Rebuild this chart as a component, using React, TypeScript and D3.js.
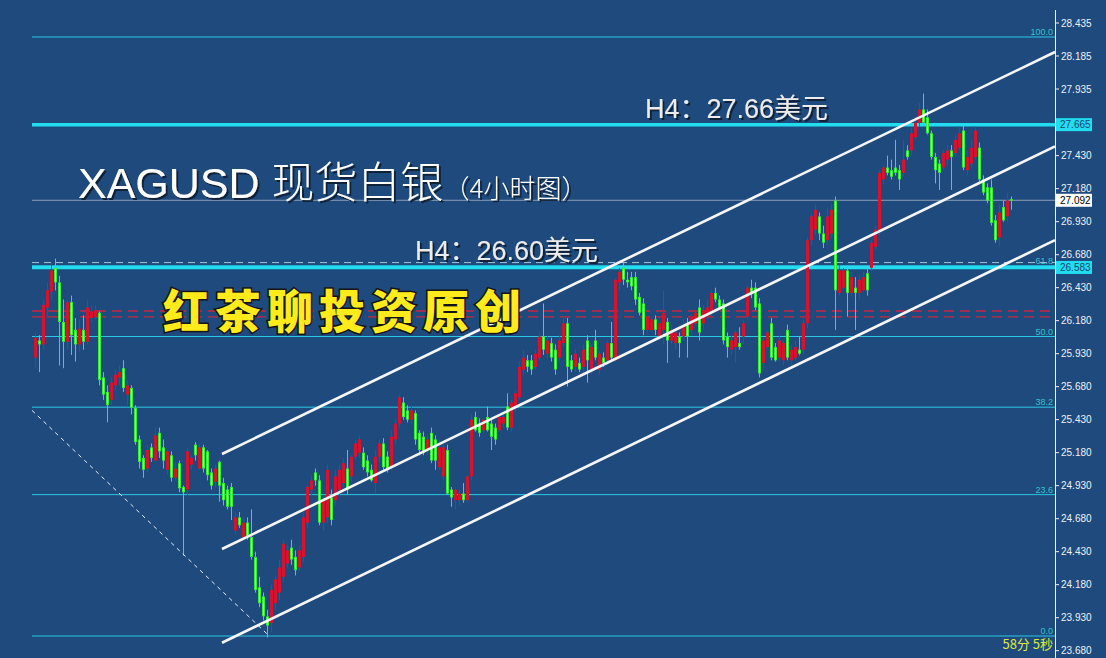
import * as d3 from "d3";

// 4H XAGUSD candles (oldest first)
const opens = [
  25.90, 26.03, 26.00, 26.28, 26.40, 26.58, 26.47, 26.17, 26.02, 26.32,
  26.11, 26.00, 26.11, 26.02, 26.20, 26.21, 26.24, 25.75, 25.64, 25.58,
  25.69, 25.75, 25.82, 25.62, 25.67, 25.52, 25.28, 25.14, 25.06, 25.22,
  25.12, 25.33, 25.22, 25.05, 25.16, 24.99, 25.10, 24.92, 24.90, 25.09,
  25.24, 25.06, 25.22, 25.19, 25.03, 24.96, 25.11, 24.95, 24.90, 24.92,
  24.59, 24.69, 24.54, 24.65, 24.54, 24.39, 24.16, 24.09, 23.94, 23.89,
  24.04, 24.12, 24.24, 24.34, 24.46, 24.39, 24.31, 24.39, 24.65, 24.90,
  25.03, 24.97, 24.65, 24.69, 24.84, 24.82, 24.90, 24.95, 25.06, 25.00,
  25.15, 25.18, 25.18, 25.12, 25.05, 24.95, 25.15, 25.25, 25.15, 25.07,
  25.28, 25.40, 25.56, 25.50, 25.43, 25.48, 25.33, 25.30, 25.20, 25.33,
  25.28, 25.07, 25.00, 25.20, 24.90, 24.82, 24.82, 24.87, 24.82, 25.00,
  25.45, 25.40, 25.35, 25.45, 25.40, 25.37, 25.35, 25.40, 25.53, 25.37,
  25.53, 25.60, 25.81, 25.88, 25.88, 25.83, 25.90, 26.06, 25.93, 26.01,
  25.96, 25.90, 26.01, 26.16, 25.88, 25.83, 25.86, 25.83, 26.03, 25.81,
  26.03, 25.81, 25.90, 25.88, 26.01, 25.88, 26.47, 26.58, 26.49, 26.51,
  26.51, 26.36, 26.31, 26.11, 26.11, 26.19, 26.06, 26.11, 26.17, 26.03,
  26.01, 26.06, 26.06, 26.16, 26.11, 26.16, 26.28, 26.16, 26.21, 26.26,
  26.39, 26.34, 26.31, 26.06, 25.96, 25.98, 26.01, 26.06, 26.21, 26.43,
  26.43, 26.31, 25.86, 25.98, 26.16, 25.98, 25.90, 25.88, 26.11, 25.88,
  25.90, 25.96, 25.96, 26.16, 26.79, 26.87, 26.97, 26.84, 26.79, 26.84,
  27.09, 26.39, 26.43, 26.56, 26.39, 26.43, 26.39, 26.41, 26.54, 26.58,
  26.74, 26.87, 27.25, 27.34, 27.32, 27.34, 27.32, 27.30, 27.47, 27.47,
  27.57, 27.68, 27.78, 27.72, 27.60, 27.42, 27.37, 27.34, 27.40, 27.47,
  27.45, 27.49, 27.62, 27.32, 27.37, 27.42, 27.49, 27.25, 27.19, 27.19,
  26.94, 26.81, 27.04, 26.97, 27.10,
];
const highs = [
  26.09, 26.07, 26.34, 26.47, 26.62, 26.65, 26.52, 26.34, 26.34, 26.37,
  26.20, 26.19, 26.22, 26.34, 26.29, 26.30, 26.25, 25.79, 25.69, 25.75,
  25.81, 25.84, 25.88, 25.73, 25.69, 25.54, 25.31, 25.16, 25.24, 25.25,
  25.37, 25.37, 25.28, 25.20, 25.19, 25.11, 25.12, 24.93, 25.22, 25.16,
  25.26, 25.24, 25.24, 25.20, 25.06, 25.09, 25.12, 24.99, 24.93, 24.95,
  24.73, 24.73, 24.69, 24.69, 24.75, 24.43, 24.24, 24.12, 23.99, 24.18,
  24.25, 24.37, 24.52, 24.48, 24.52, 24.44, 24.48, 24.73, 24.93, 25.01,
  25.06, 25.01, 24.86, 25.09, 24.90, 25.05, 25.09, 25.14, 25.20, 25.16,
  25.28, 25.31, 25.22, 25.16, 25.09, 25.20, 25.28, 25.29, 25.19, 25.35,
  25.44, 25.62, 25.60, 25.54, 25.54, 25.50, 25.35, 25.34, 25.31, 25.37,
  25.31, 25.28, 25.24, 25.24, 24.92, 24.91, 24.90, 24.95, 25.01, 25.47,
  25.49, 25.44, 25.44, 25.53, 25.43, 25.40, 25.47, 25.48, 25.63, 25.58,
  25.65, 25.87, 25.96, 25.92, 25.92, 25.96, 26.09, 26.31, 26.07, 26.05,
  26.00, 26.07, 26.20, 26.20, 25.92, 25.96, 25.90, 26.00, 26.07, 26.00,
  26.11, 25.96, 25.94, 26.03, 26.17, 26.50, 26.58, 26.62, 26.55, 26.55,
  26.55, 26.39, 26.35, 26.22, 26.20, 26.22, 26.17, 26.41, 26.20, 26.15,
  26.11, 26.09, 26.19, 26.20, 26.22, 26.26, 26.34, 26.30, 26.34, 26.41,
  26.43, 26.37, 26.34, 26.09, 26.07, 26.11, 26.13, 26.19, 26.45, 26.49,
  26.47, 26.35, 26.05, 26.11, 26.20, 26.01, 26.07, 26.03, 26.15, 26.00,
  26.03, 26.06, 26.19, 26.81, 26.99, 27.06, 27.00, 26.90, 27.04, 27.06,
  27.12, 26.60, 26.58, 26.60, 26.55, 26.51, 26.53, 26.55, 26.58, 26.79,
  26.90, 27.32, 27.36, 27.43, 27.40, 27.55, 27.36, 27.55, 27.51, 27.64,
  27.72, 27.83, 27.90, 27.78, 27.62, 27.45, 27.40, 27.47, 27.51, 27.51,
  27.59, 27.65, 27.66, 27.47, 27.55, 27.65, 27.53, 27.28, 27.22, 27.25,
  26.98, 27.06, 27.09, 27.15, 27.12,
];
const lows = [
  25.82, 25.79, 25.96, 26.20, 26.34, 26.41, 25.84, 25.82, 25.96, 25.92,
  25.87, 25.94, 25.96, 26.00, 26.17, 26.19, 25.69, 25.58, 25.41, 25.54,
  25.65, 25.69, 25.64, 25.54, 25.47, 25.24, 25.06, 24.99, 25.03, 25.11,
  25.11, 25.14, 25.06, 25.01, 24.96, 24.97, 24.88, 24.40, 24.86, 25.05,
  25.12, 25.05, 25.03, 24.97, 24.90, 24.92, 24.81, 24.78, 24.75, 24.67,
  24.56, 24.61, 24.52, 24.52, 24.37, 24.12, 24.01, 23.91, 23.78, 23.82,
  23.99, 24.06, 24.20, 24.31, 24.33, 24.25, 24.28, 24.35, 24.61, 24.86,
  24.93, 24.63, 24.59, 24.65, 24.63, 24.78, 24.86, 24.92, 24.86, 24.96,
  25.12, 25.14, 25.05, 25.00, 24.96, 24.87, 25.11, 25.05, 25.03, 25.05,
  25.24, 25.37, 25.43, 25.41, 25.39, 25.24, 25.16, 25.16, 25.16, 25.10,
  25.05, 25.05, 24.97, 24.86, 24.77, 24.75, 24.78, 24.80, 24.80, 24.97,
  25.34, 25.30, 25.33, 25.34, 25.20, 25.24, 25.34, 25.37, 25.35, 25.34,
  25.49, 25.58, 25.77, 25.79, 25.77, 25.81, 25.88, 25.92, 25.90, 25.87,
  25.77, 25.87, 25.98, 25.68, 25.79, 25.79, 25.79, 25.79, 25.71, 25.77,
  25.88, 25.77, 25.83, 25.84, 25.88, 25.87, 26.41, 26.45, 26.43, 26.41,
  26.30, 26.22, 26.07, 26.09, 26.09, 26.07, 26.03, 26.00, 25.86, 26.00,
  25.96, 25.90, 26.03, 25.90, 26.07, 26.15, 26.03, 26.11, 26.19, 26.22,
  26.32, 26.26, 26.00, 25.90, 25.92, 25.86, 25.96, 26.00, 26.19, 26.35,
  26.26, 25.75, 25.81, 25.96, 25.88, 25.87, 25.87, 25.84, 25.88, 25.83,
  25.88, 25.92, 25.92, 26.12, 26.75, 26.83, 26.79, 26.73, 26.75, 26.81,
  26.11, 26.37, 26.41, 26.21, 26.36, 26.11, 26.34, 26.40, 26.37, 26.55,
  26.72, 26.83, 27.21, 27.28, 27.25, 27.28, 27.17, 27.27, 27.40, 27.43,
  27.55, 27.65, 27.66, 27.59, 27.40, 27.22, 27.17, 27.32, 27.36, 27.17,
  27.42, 27.47, 27.32, 27.28, 27.34, 27.40, 27.22, 27.13, 27.07, 26.90,
  26.77, 26.74, 26.93, 26.93, 27.02,
];
const closes = [
  26.05, 26.00, 26.30, 26.41, 26.56, 26.47, 26.17, 26.02, 26.32, 26.07,
  26.00, 26.12, 26.02, 26.28, 26.25, 26.26, 25.73, 25.62, 25.54, 25.71,
  25.77, 25.79, 25.67, 25.69, 25.52, 25.26, 25.11, 25.05, 25.20, 25.14,
  25.31, 25.19, 25.12, 25.19, 24.99, 25.06, 24.91, 24.88, 25.19, 25.14,
  25.16, 25.22, 25.06, 25.01, 24.93, 25.06, 24.93, 24.82, 24.77, 24.77,
  24.69, 24.63, 24.65, 24.54, 24.39, 24.14, 24.04, 23.94, 23.87, 24.14,
  24.22, 24.31, 24.49, 24.44, 24.37, 24.29, 24.44, 24.69, 24.92, 24.97,
  24.97, 24.65, 24.82, 25.05, 24.67, 25.00, 25.05, 25.10, 24.90, 25.15,
  25.25, 25.28, 25.07, 25.03, 24.97, 25.15, 25.25, 25.07, 25.05, 25.30,
  25.40, 25.60, 25.45, 25.43, 25.50, 25.28, 25.20, 25.18, 25.28, 25.12,
  25.12, 25.22, 25.22, 24.87, 24.84, 24.90, 24.87, 24.82, 25.00, 25.43,
  25.35, 25.33, 25.43, 25.35, 25.30, 25.28, 25.45, 25.45, 25.37, 25.56,
  25.63, 25.83, 25.90, 25.83, 25.81, 25.93, 26.06, 25.96, 26.03, 25.90,
  25.81, 26.03, 26.16, 25.83, 25.81, 25.93, 25.81, 25.96, 25.88, 25.98,
  25.90, 25.93, 25.86, 26.01, 25.90, 26.49, 26.55, 26.49, 26.47, 26.44,
  26.34, 26.24, 26.11, 26.21, 26.19, 26.11, 26.16, 26.24, 26.03, 26.11,
  26.09, 26.01, 26.13, 26.06, 26.21, 26.24, 26.09, 26.26, 26.28, 26.39,
  26.34, 26.28, 26.03, 25.98, 26.03, 26.09, 25.98, 26.16, 26.43, 26.39,
  26.28, 25.78, 26.03, 26.09, 25.90, 25.88, 26.03, 26.01, 25.90, 25.96,
  25.98, 25.93, 26.16, 26.79, 26.97, 27.02, 26.84, 26.77, 26.97, 27.02,
  26.41, 26.56, 26.56, 26.39, 26.51, 26.39, 26.49, 26.51, 26.41, 26.77,
  26.87, 27.30, 27.34, 27.30, 27.27, 27.30, 27.25, 27.40, 27.42, 27.60,
  27.68, 27.78, 27.68, 27.60, 27.42, 27.32, 27.30, 27.45, 27.47, 27.42,
  27.55, 27.60, 27.34, 27.42, 27.49, 27.62, 27.25, 27.15, 27.09, 26.92,
  26.79, 27.00, 26.94, 27.09, 27.09,
];

// price axis
const axisTicks = [
  28.435, 28.185, 27.935, 27.43, 27.18, 26.93, 26.68, 26.43, 26.18, 25.93,
  25.68, 25.43, 25.18, 24.93, 24.68, 24.43, 24.18, 23.93, 23.68,
];
const keyLevels = [27.665, 26.583];
const keyLabels = ["H4：27.66美元", "H4：26.60美元"];
const lastPrice = 27.092;

// fibonacci retracement
const fibHigh = 28.329;
const fibLow = 23.791;
const fibLevels = [0, 23.6, 38.2, 50, 61.8, 100];

const redDashLevels = [26.253, 26.208];
const greyDashLevel = 26.62;

// channel lines: [bar index, price] pairs
const channels: [number, number][][] = [
  [[46.75, 25.17], [255, 28.215]],
  [[46.75, 24.45], [255, 27.5]],
  [[46.75, 23.74], [255, 26.79]],
];
const fibTrend: [number, number][] = [[-0.75, 25.5], [58.25, 23.8]];

const W = 1106;
const H = 658;
const plotLeft = 32;
const plotRight = 1055;

const x = d3.scaleLinear().domain([0, closes.length - 1]).range([35, 35 + 4 * (closes.length - 1)]);
const y = d3.scaleLinear().domain([28.435, 23.68]).range([23, 650.66]);
const fmt = d3.format(".3f");

const bg = "#1f4a7d";
const cyan = "#22dcef";
const latin = "'Liberation Sans', Arial, sans-serif";
const cjk = "'Noto Sans CJK SC', sans-serif";

export default function App() {
  const line = d3.line<[number, number]>().x(d => x(d[0])).y(d => y(d[1]));

  return (
    <div style={{ position: "absolute", left: 0, top: 0 }}>
      <svg width={W} height={H} style={{ display: "block", background: bg }}>
        <defs>
          <filter id="shadow" x="-5%" y="-20%" width="110%" height="140%">
            <feDropShadow dx={2} dy={2} stdDeviation={0.6} floodColor="#0a1a30" floodOpacity={0.9} />
          </filter>
        </defs>
        <rect width={W} height={H} fill={bg} />

        {/* fib levels */}
        {fibLevels.map(p => {
          const v = fibLow + (p / 100) * (fibHigh - fibLow);
          return (
            <g key={p}>
              <line x1={plotLeft} x2={plotRight} y1={y(v)} y2={y(v)} stroke="#2bc8e4" strokeWidth={1} />
              <text x={plotRight - 2} y={y(v) - 2} textAnchor="end" fontSize={9}
                fontFamily={latin} fill="#35c4c8">{p.toFixed(1)}</text>
            </g>
          );
        })}

        {/* dashed levels */}
        <line x1={plotLeft} x2={plotRight} y1={y(greyDashLevel)} y2={y(greyDashLevel)}
          stroke="#a9c6d8" strokeWidth={1} strokeDasharray="7 5" />
        {redDashLevels.map(v => (
          <line key={v} x1={plotLeft} x2={plotRight} y1={y(v)} y2={y(v)}
            stroke="#c8283f" strokeWidth={1.3} strokeDasharray="10 6" />
        ))}

        {/* last price line */}
        <line x1={plotLeft} x2={plotRight} y1={y(lastPrice)} y2={y(lastPrice)} stroke="#8d9fb8" strokeWidth={1} />

        {/* key levels */}
        {keyLevels.map(v => (
          <line key={v} x1={plotLeft} x2={plotRight} y1={y(v)} y2={y(v)} stroke={cyan} strokeWidth={3.5} />
        ))}

        {/* candles: red = up, green = down */}
        {closes.map((c, i) => {
          const o = opens[i];
          const up = c >= o;
          const cx = x(i) + 0.5;
          const top = y(Math.max(o, c));
          const bh = Math.max(1, y(Math.min(o, c)) - top);
          const col = up ? "#d6122f" : "#36ec36";
          return (
            <g key={i}>
              <line x1={cx} x2={cx} y1={y(highs[i])} y2={y(lows[i])} stroke={col} strokeWidth={1} />
              <rect x={cx - 1.5} y={top} width={3} height={bh} fill={col} />
              {!up && bh > 2 && (
                <line x1={cx} x2={cx} y1={top + 1} y2={top + bh - 1} stroke="#c8ffc8" strokeWidth={1} />
              )}
            </g>
          );
        })}

        {/* fib trend line */}
        <path d={line(fibTrend) || ""} stroke="#e8eef6" strokeWidth={1} strokeDasharray="4 4" fill="none" />

        {/* channel */}
        {channels.map((c, i) => (
          <path key={i} d={line(c) || ""} stroke="#f6f6f6" strokeWidth={2.6} fill="none" />
        ))}

        {/* right price axis */}
        <line x1={plotRight + 0.5} x2={plotRight + 0.5} y1={10} y2={H} stroke="#f0f0f0" strokeWidth={1} />
        {axisTicks.map(t => (
          <g key={t}>
            <line x1={plotRight} x2={plotRight + 4} y1={y(t)} y2={y(t)} stroke="#f0f0f0" />
            <text x={plotRight + 6} y={y(t)} dy="0.35em" fontSize={10}
              fontFamily={latin} fill="#eef2f6">{fmt(t)}</text>
          </g>
        ))}
        {keyLevels.map(v => (
          <g key={v}>
            <rect x={plotRight + 1} y={y(v) - 6.5} width={36} height={13} fill={cyan} />
            <text x={plotRight + 5} y={y(v)} dy="0.35em" fontSize={10}
              fontFamily={latin} fill="#17476f">{fmt(v)}</text>
          </g>
        ))}
        <rect x={plotRight + 1} y={y(lastPrice) - 6.5} width={36} height={13} fill="#ffffff" />
        <text x={plotRight + 5} y={y(lastPrice)} dy="0.35em" fontSize={10}
          fontFamily={latin} fill="#000000">{fmt(lastPrice)}</text>

        {/* level notes */}
        {keyLevels.map((v, i) => (
          <text key={v} x={i === 0 ? 645 : 415} y={y(v) - 7} fill="#ececec" fontSize={27}
            fontFamily={`'Liberation Sans', ${cjk}`} filter="url(#shadow)">{keyLabels[i]}</text>
        ))}

        {/* title */}
        <text x={78} y={198} fill="#ffffff" fontSize={43} filter="url(#shadow)">
          <tspan fontFamily={latin}>XAGUSD </tspan>
          <tspan fontFamily={cjk} fontWeight={300}>现货白银</tspan>
          <tspan fontFamily={cjk} fontWeight={300} fontSize={26}>（4小时图）</tspan>
        </text>

        {/* watermark */}
        <text x={163} y={328} fontSize={46} fontWeight={900} letterSpacing={6}
          fontFamily={cjk} fill="#ffea1c" stroke="#141414" strokeWidth={3}
          style={{ paintOrder: "stroke" }}>红茶聊投资原创</text>

        {/* bar timer */}
        <text x={plotRight - 2} y={649} textAnchor="end" fontSize={13}
          fontFamily={cjk} fill="#dfe83c">58分 5秒</text>
      </svg>
    </div>
  );
}
